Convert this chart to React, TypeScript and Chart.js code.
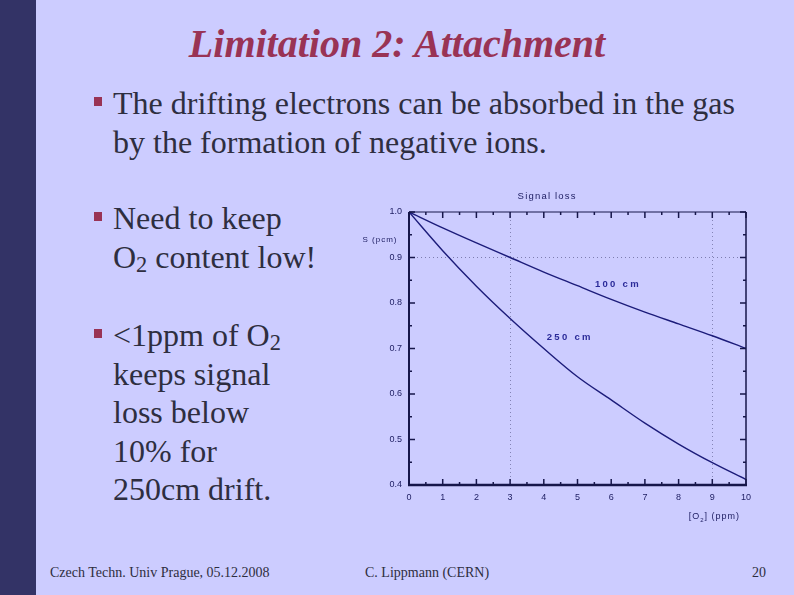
import React, { useEffect, useRef } from "react";
import { Chart, registerables } from "chart.js";

Chart.register(...registerables);

const o2ppm = [0, 1, 2, 3, 4, 5, 6, 7, 8, 9, 10];
const signal100cm = [1.0, 0.965, 0.932, 0.9, 0.868, 0.838, 0.808, 0.78, 0.754, 0.728, 0.7];
const signal250cm = [1.0, 0.915, 0.837, 0.766, 0.7, 0.638, 0.587, 0.536, 0.49, 0.449, 0.412];
const xTicks = { min: 0, max: 10, step: 1 };
const yTicks = { min: 0.4, max: 1.0, step: 0.1 };
const xGridAt = [3, 9];
const yGridAt = [0.9];

const INK = "#16164a";
const LINE = "#1c1c7a";

const framePlugin = {
  id: "frame",
  afterDraw(chart: any) {
    const { ctx, chartArea: a, scales } = chart;
    const xs = scales.x;
    const ys = scales.y;
    ctx.save();
    ctx.strokeStyle = INK;
    // frame
    ctx.lineWidth = 1;
    ctx.beginPath();
    ctx.moveTo(a.left, a.top);
    ctx.lineTo(a.right, a.top);
    ctx.stroke();
    ctx.lineWidth = 1.5;
    ctx.beginPath();
    ctx.moveTo(a.right, a.top);
    ctx.lineTo(a.right, a.bottom);
    ctx.stroke();
    ctx.lineWidth = 2;
    ctx.beginPath();
    ctx.moveTo(a.left, a.top);
    ctx.lineTo(a.left, a.bottom);
    ctx.stroke();
    ctx.lineWidth = 2.5;
    ctx.beginPath();
    ctx.moveTo(a.left - 1, a.bottom);
    ctx.lineTo(a.right + 1, a.bottom);
    ctx.stroke();
    // inner ticks
    ctx.lineWidth = 1.5;
    for (let v = xTicks.min; v <= xTicks.max + 1e-9; v += xTicks.step / 2) {
      const major = Math.abs(v - Math.round(v)) < 1e-6;
      const len = major ? 6 : 3;
      const px = xs.getPixelForValue(v);
      ctx.beginPath();
      ctx.moveTo(px, a.bottom);
      ctx.lineTo(px, a.bottom - len);
      ctx.moveTo(px, a.top);
      ctx.lineTo(px, a.top + len);
      ctx.stroke();
    }
    for (let i = 0; i <= 12; i++) {
      const v = yTicks.min + (i * yTicks.step) / 2;
      const major = i % 2 === 0;
      const len = major ? 6 : 3;
      const py = ys.getPixelForValue(v);
      ctx.beginPath();
      ctx.moveTo(a.left, py);
      ctx.lineTo(a.left + len, py);
      ctx.moveTo(a.right, py);
      ctx.lineTo(a.right - len, py);
      ctx.stroke();
    }
    // annotations
    ctx.fillStyle = "#222266";
    ctx.textBaseline = "middle";
    ctx.textAlign = "center";
    ctx.font = "9.5px 'Liberation Sans', Arial, sans-serif";
    (ctx as any).letterSpacing = "1.2px";
    ctx.fillText("Signal loss", xs.getPixelForValue(4.1), a.top - 16);
    ctx.fillStyle = "#2a2a99";
    ctx.font = "bold 9.5px 'Liberation Sans', Arial, sans-serif";
    (ctx as any).letterSpacing = "2.3px";
    ctx.fillText("100 cm", xs.getPixelForValue(6.2), ys.getPixelForValue(0.841));
    ctx.fillText("250 cm", xs.getPixelForValue(4.77), ys.getPixelForValue(0.725));
    // y label
    ctx.fillStyle = "#222266";
    ctx.font = "8px 'Liberation Sans', Arial, sans-serif";
    (ctx as any).letterSpacing = "1px";
    ctx.textAlign = "center";
    ctx.fillText("S (pcm)", a.left - 29, ys.getPixelForValue(0.938));
    // x label
    ctx.font = "9px 'Liberation Sans', Arial, sans-serif";
    ctx.textAlign = "left";
    let x = xs.getPixelForValue(8.3);
    const y = a.bottom + 32;
    ctx.fillText("[O", x, y);
    x += ctx.measureText("[O").width;
    ctx.font = "6px 'Liberation Sans', Arial, sans-serif";
    ctx.fillText("2", x, y + 3);
    x += ctx.measureText("2").width;
    ctx.font = "9px 'Liberation Sans', Arial, sans-serif";
    ctx.fillText("] (ppm)", x, y);
    ctx.restore();
  },
};

function SignalChart() {
  const ref = useRef<HTMLCanvasElement | null>(null);
  useEffect(() => {
    if (!ref.current) return;
    const chart = new Chart(ref.current, {
      type: "line",
      data: {
        datasets: [
          {
            label: "100 cm",
            data: o2ppm.map((x, i) => ({ x, y: signal100cm[i] })),
            borderColor: LINE,
            borderWidth: 1.4,
            pointRadius: 0,
            tension: 0.4,
            cubicInterpolationMode: "monotone",
          },
          {
            label: "250 cm",
            data: o2ppm.map((x, i) => ({ x, y: signal250cm[i] })),
            borderColor: LINE,
            borderWidth: 1.4,
            pointRadius: 0,
            tension: 0.4,
            cubicInterpolationMode: "monotone",
          },
        ],
      },
      options: {
        responsive: false,
        animation: false,
        layout: { padding: { top: 27, right: 29, left: 0, bottom: 0 } },
        plugins: { legend: { display: false }, tooltip: { enabled: false }, title: { display: false } },
        scales: {
          x: {
            type: "linear",
            min: xTicks.min,
            max: xTicks.max,
            afterFit: (s: any) => {
              s.height = 46;
            },
            ticks: {
              stepSize: xTicks.step,
              padding: 7,
              color: "#222266",
              font: { family: "'Liberation Sans', Arial, sans-serif", size: 9 },
              maxRotation: 0,
            },
            grid: {
              drawTicks: false,
              lineWidth: 1,
              color: (c: any) => (xGridAt.includes(c.tick?.value) ? "rgba(60,60,110,0.5)" : "rgba(0,0,0,0)"),
            },
            border: { display: false, dash: [1, 3] },
          },
          y: {
            type: "linear",
            min: yTicks.min,
            max: yTicks.max,
            afterFit: (s: any) => {
              s.width = 54;
            },
            ticks: {
              stepSize: yTicks.step,
              padding: 7,
              color: "#222266",
              font: { family: "'Liberation Sans', Arial, sans-serif", size: 9 },
              callback: (v: any) => Number(v).toFixed(1),
            },
            grid: {
              drawTicks: false,
              lineWidth: 1,
              color: (c: any) =>
                yGridAt.some((g) => Math.abs((c.tick?.value ?? -1) - g) < 1e-6) ? "rgba(60,60,110,0.55)" : "rgba(0,0,0,0)",
            },
            border: { display: false, dash: [1, 3] },
          },
        },
      },
      plugins: [framePlugin],
    } as any);
    return () => chart.destroy();
  }, []);
  return (
    <canvas
      ref={ref}
      width={420}
      height={346}
      style={{ position: "absolute", left: 355, top: 185, width: 420, height: 346 }}
    />
  );
}

const serif = "'Liberation Serif', 'Times New Roman', serif";
const textColor = "#2e2e40";
const maroon = "#993355";

function Bullet({ top }: { top: number }) {
  return (
    <div style={{ position: "absolute", left: 94, top, width: 8, height: 9, background: maroon }} />
  );
}

const sub: React.CSSProperties = { fontSize: "0.7em", verticalAlign: "-0.2em", lineHeight: 0 };

export default function App() {
  const body: React.CSSProperties = {
    position: "absolute",
    left: 113,
    fontFamily: serif,
    fontSize: 32,
    lineHeight: "38.5px",
    color: textColor,
    whiteSpace: "nowrap",
  };
  return (
    <div
      style={{
        position: "absolute",
        left: 0,
        top: 0,
        width: 794,
        height: 595,
        background: "#ccccff",
        overflow: "hidden",
      }}
    >
      <div style={{ position: "absolute", left: 0, top: 0, width: 36, height: 595, background: "#333366" }} />
      <div
        style={{
          position: "absolute",
          left: 36,
          width: 722,
          top: 21,
          textAlign: "center",
          fontFamily: serif,
          fontWeight: "bold",
          fontStyle: "italic",
          fontSize: 40,
          lineHeight: "46px",
          color: maroon,
        }}
      >
        Limitation 2: Attachment
      </div>

      <Bullet top={97} />
      <div style={{ ...body, top: 84 }}>
        The drifting electrons can be absorbed in the gas
        <br />
        by the formation of negative ions.
      </div>

      <Bullet top={212} />
      <div style={{ ...body, top: 199 }}>
        Need to keep
        <br />
        O<sub style={sub}>2</sub> content low!
      </div>

      <Bullet top={329} />
      <div style={{ ...body, top: 316 }}>
        &lt;1ppm of O<sub style={sub}>2</sub>
        <br />
        keeps signal
        <br />
        loss below
        <br />
        10% for
        <br />
        250cm drift.
      </div>

      <SignalChart />

      <div style={{ position: "absolute", left: 50, top: 565, fontFamily: serif, fontSize: 14, color: textColor, whiteSpace: "nowrap" }}>
        Czech Techn. Univ Prague, 05.12.2008
      </div>
      <div style={{ position: "absolute", left: 365, top: 565, fontFamily: serif, fontSize: 14, color: textColor, whiteSpace: "nowrap" }}>
        C. Lippmann (CERN)
      </div>
      <div style={{ position: "absolute", left: 752, top: 565, fontFamily: serif, fontSize: 14, color: textColor, whiteSpace: "nowrap" }}>
        20
      </div>
    </div>
  );
}
